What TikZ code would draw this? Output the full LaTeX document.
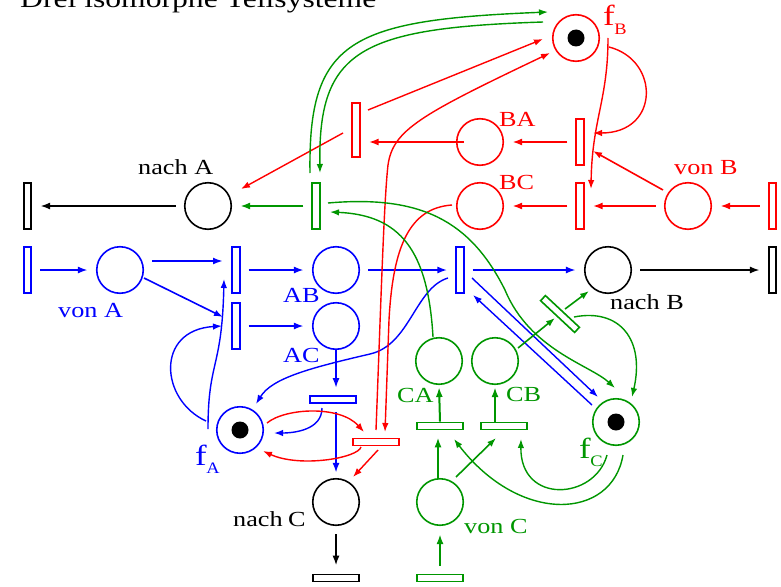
\documentclass[tikz,border=0pt]{standalone}
\usepackage{fontspec}
\setmainfont{Liberation Serif}
\usetikzlibrary{arrows.meta,calc}
\definecolor{gr}{RGB}{0,150,0}
\definecolor{rd}{RGB}{255,0,0}
\definecolor{bl}{RGB}{0,0,255}
\newcommand{\wt}[1]{\scalebox{1.22}[1]{\fontsize{21.5}{24}\selectfont #1}}
\newcommand{\fsub}[1]{\scalebox{1.2}[1]{\fontsize{29}{29}\selectfont f}\kern-0.5pt\raisebox{-8.5pt}{\scalebox{1.15}[1]{\fontsize{16}{16}\selectfont #1}}}
\begin{document}
\begin{tikzpicture}[x=1pt,y=-1pt,
  pl/.style={circle,draw,line width=1.6pt,minimum size=46.5pt,inner sep=0pt},
  vt/.style={rectangle,draw,line width=1.6pt,minimum width=7.5pt,minimum height=46.5pt,inner sep=0pt},
  ht/.style={rectangle,draw,line width=1.6pt,minimum width=46.5pt,minimum height=7pt,inner sep=0pt},
  arr/.style={-{Latex[length=10pt,width=7pt]},line width=2pt},
  carr/.style={-{Latex[length=9pt,width=6.5pt]},line width=1.4pt},
  gap/.style={shorten <=8pt,shorten >=8pt},
  lbl/.style={anchor=base west,inner sep=0pt}]
\useasboundingbox (0,0) rectangle (781,586);
\node[lbl] (title) at (20,7.5) {\scalebox{1.24}[1]{\fontsize{25.5}{28}\selectfont Drei isomorphe Teilsysteme}};

% places
\node[pl] (nachA) at (208,206) {};
\node[pl,bl] (vonA) at (120,270) {};
\node[pl,bl] (AB) at (336,270) {};
\node[pl,bl] (AC) at (336,326) {};
\node[pl] (nachB) at (608,270) {};
\node[pl,rd] (BA) at (480,142) {};
\node[pl,rd] (BC) at (480,206) {};
\node[pl,rd] (vonB) at (688,206) {};
\node[pl,rd] (fB) at (576,38) {};
\node[pl,gr] (CA) at (439,361) {};
\node[pl,gr] (CB) at (495,361) {};
\node[pl,bl] (fA) at (240,430) {};
\node[pl] (nachC) at (336,502) {};
\node[pl,gr] (vonC) at (440,502) {};
\node[pl,gr] (fC) at (616,422) {};
\fill (fB) circle[radius=8.5];
\fill (fA) circle[radius=8.5];
\fill (fC) circle[radius=8.5];

% transitions
\node[vt] (tAout) at (27.5,206) {};
\node[vt,bl] (tAin) at (27.5,270) {};
\node[vt,bl] (tAB) at (236,270) {};
\node[vt,bl] (tAC) at (236,326) {};
\node[vt,bl] (tBt) at (460,270) {};
\node[vt] (tBout) at (772.5,270) {};
\node[vt,gr] (tGA) at (316,206) {};
\node[vt,rd,minimum height=54.5pt] (tRA) at (356,130) {};
\node[vt,rd] (tBA) at (580,142) {};
\node[vt,rd] (tBC) at (580,206) {};
\node[vt,rd] (tBin) at (772.5,206) {};
\node[ht,bl] (tCdown) at (333,399.5) {};
\node[ht,rd] (tRC) at (376,442) {};
\node[ht,gr] (tCA) at (440,426) {};
\node[ht,gr] (tCB) at (504,426) {};
\node[ht] (tCout) at (336,578) {};
\node[ht,gr] (tCin) at (440,578) {};
\node[ht,gr,rotate=-43] (tGB) at (560,314) {};

% labels
\node[lbl] (lnachA) at (138,174) {\wt{nach A}};
\node[lbl,text=bl] (lvonA) at (58,317) {\wt{von A}};
\node[lbl,text=bl] (lAB) at (283,302) {\wt{AB}};
\node[lbl,text=bl] (lAC) at (283,362) {\wt{AC}};
\node[lbl] (lnachB) at (610,309) {\wt{nach B}};
\node[lbl,text=rd] (lBA) at (499,126) {\wt{BA}};
\node[lbl,text=rd] (lBC) at (499,189) {\wt{BC}};
\node[lbl,text=rd] (lvonB) at (674,174) {\wt{von B}};
\node[lbl,text=rd] (lfB) at (603,26) {\fsub{B}};
\node[lbl,text=bl] (lfA) at (195,465) {\fsub{A}};
\node[lbl,text=gr] (lfC) at (579,458) {\fsub{C}};
\node[lbl,text=gr] (lCA) at (397,402) {\wt{CA}};
\node[lbl,text=gr] (lCB) at (506,401) {\wt{CB}};
\node[lbl] (lnachC) at (233,526) {\wt{nach\kern-1pt\ C}};
\node[lbl,text=gr] (lvonC) at (464,533) {\wt{von C}};

% black arcs
\draw[arr,gap] (nachA) -- (tAout);
\draw[arr,gap] (nachB) -- (tBout);
\draw[arr,gap] (nachC) -- (tCout);

% blue arcs
\begin{scope}[bl]
\draw[arr,gap] (tAin) -- (vonA);
\draw[arr] ($(vonA)+(32,-9)$) -- ($(tAB)+(-13,-9)$);
\draw[carr,line width=1.6pt] ($(vonA)+(24,8)$) -- ($(tAC)+(-13,-9)$);
\draw[arr,gap] (tAB) -- (AB);
\draw[arr,gap] (tAC) -- (AC);
\draw[arr,gap] (AB) -- (tBt);
\draw[arr,gap] (tBt) -- (nachB);
\draw[arr,shorten >=7pt] (AC.south) -- (AC.south |- tCdown.north);
\draw[arr,shorten <=8pt,shorten >=5pt] (nachC |- tCdown.south) -- (nachC.north);
\draw[carr] ($(tCdown)+(-11,8.5)$) .. controls +(0,22) and +(20,0) .. ($(fA)+(34,3)$);
\draw[carr] ($(tBt)+(12,8)$) -- ($(fC)+(-18,-25)$);
\draw[carr] ($(fC)+(-24,-17)$) -- ($(tBt)+(13,25)$);
\draw[carr] ($(fA)+(-34,-9)$) .. controls (160,400) and (155,330) .. ($(tAC)+(-14,0)$);
\draw[carr] ($(fA)+(-32,-1)$) .. controls (208,360) and (222,370) .. ($(tAB)+(-12,9)$);
\draw[carr] ($(tBt)+(-12,8)$) .. controls (415,288) and (410,345) .. (370,354) .. controls (310,368) and (272,378) .. ($(fA)+(16,-26)$);
\end{scope}

% red arcs
\begin{scope}[rd]
\draw[arr,gap] (tBin) -- (vonB);
\draw[arr,gap] (vonB) -- (tBC);
\draw[carr,line width=1.6pt] ($(vonB)+(-25,-16)$) -- ($(tBA)+(13,9)$);
\draw[arr,gap] (tBA) -- (BA);
\draw[arr,gap] (tBC) -- (BC);
\draw[arr,shorten <=-8pt,shorten >=8pt] (BA.west) -- (BA.west -| tRA.east);
\draw[carr] ($(tRA)+(-13,3)$) -- ($(nachA)+(33,-17)$);
\draw[carr] ($(tRA)+(12,-20)$) -- ($(fB)+(-33,1)$);
\draw[carr] ($(fB)+(32,0)$) .. controls (608,100) and (592,120) .. ($(tBC)+(11,-17)$);
\draw[carr] ($(fB)+(33,9)$) .. controls (660,60) and (660,133) .. ($(tBA)+(13,-9)$);
\draw[carr] ($(tRC)+(0,-12)$) .. controls (381,300) and (384,200) .. (388,165) .. controls (393,130) and (420,115) .. ($(fB)+(-26,15)$);
\draw[carr] ($(BC)+(-28,-1)$) .. controls (410,208) and (393,245) .. (389,320) -- ($(tRC)+(9,-10)$);
\draw[carr] ($(fA)+(27,-7)$) .. controls (285,408) and (340,405) .. ($(tRC)+(-12,-10)$);
\draw[carr] ($(tRC)+(-15,5)$) .. controls (358,458) and (300,468) .. ($(fA)+(23,21)$);
\draw[carr] ($(tRC)+(2,8)$) -- ($(nachC)+(17,-25)$);
\end{scope}

% green arcs
\begin{scope}[gr]
\draw[arr,gap] (tGA) -- (nachA);
\draw[carr] ($(tGA)+(-6,-33)$) .. controls (308,40) and (350,20) .. ($(fB)+(-28,-26)$);
\draw[carr] ($(fB)+(-33,-16)$) .. controls (360,28) and (318,50) .. ($(tGA)+(4,-33)$);
\draw[carr] ($(tGA)+(12,-3)$) .. controls (420,195) and (470,220) .. (505,290) .. controls (530,350) and (590,365) .. ($(fC)+(-1,-34)$);
\draw[carr] ($(CA)+(-6,-24)$) .. controls (428,250) and (400,215) .. ($(tGA)+(14,6)$);
\draw[arr,shorten >=2pt] (tCA.north) -- (CA.south);
\draw[arr,shorten >=2pt] (CB.south |- tCB.north) -- (CB.south);
\draw[arr,shorten >=7pt] ($(vonC.north)+(-2,0)$) -- ($(vonC.north |- tCA.south)+(-2,0)$);
\draw[carr,line width=1.6pt] ($(vonC)+(16,-25)$) -- ($(tCB)+(-8,12)$);
\draw[carr] ($(fC)+(7,33)$) .. controls (612,520) and (520,525) .. ($(tCA)+(14,13)$);
\draw[carr] ($(fC)+(-9,33)$) .. controls (595,500) and (520,505) .. ($(tCB)+(17,13)$);
\draw[carr,line width=1.6pt] ($(CB)+(23,-13)$) -- ($(tGB)+(-5,4)$);
\draw[carr,line width=1.6pt] ($(tGB)+(5,-5)$) -- ($(nachB)+(-19,21)$);
\draw[carr] ($(tGB)+(14,3)$) .. controls (620,308) and (645,340) .. ($(fC)+(16,-25)$);
\draw[arr,gap] (tCin) -- (vonC);
\end{scope}
\end{tikzpicture}
\end{document}
